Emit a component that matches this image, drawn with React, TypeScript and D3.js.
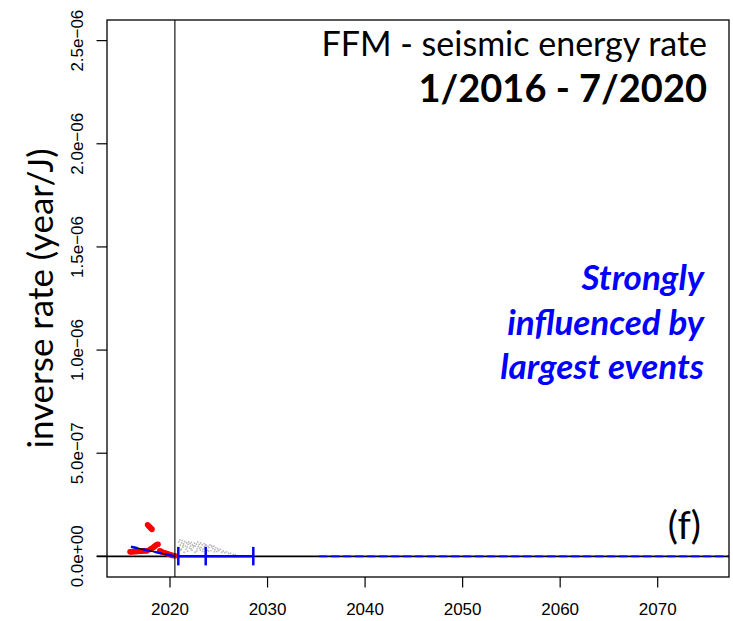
import React from 'react';
import * as d3 from 'd3';

// ---- data ----
const xTicks = [2020, 2030, 2040, 2050, 2060, 2070];
const yTicks = [0, 0.5e-6, 1.0e-6, 1.5e-6, 2.0e-6, 2.5e-6];
const yTickLabels = ['0.0e+00', '5.0e\u221207', '1.0e\u221206', '1.5e\u221206', '2.0e\u221206', '2.5e\u221206'];

// observed inverse rate (red)
const redYears = [
  2015.9, 2016.05, 2016.2, 2016.35, 2016.5, 2016.65, 2016.8, 2016.95, 2017.1, 2017.25, 2017.4, 2017.55, 2017.65,
  2017.7, 2017.8, 2017.9, 2018.0, 2018.1, 2018.15,
  2017.95, 2018.05, 2018.15, 2018.25, 2018.35, 2018.45, 2018.55, 2018.65, 2018.77,
  2018.95, 2019.1, 2019.25,
  2019.45, 2019.6, 2019.75, 2019.9, 2020.05, 2020.2, 2020.35, 2020.5,
];
const redRates = [
  0.022e-6, 0.022e-6, 0.023e-6, 0.023e-6, 0.024e-6, 0.024e-6, 0.025e-6, 0.025e-6, 0.026e-6, 0.026e-6, 0.027e-6, 0.027e-6, 0.027e-6,
  0.153e-6, 0.148e-6, 0.143e-6, 0.138e-6, 0.134e-6, 0.131e-6,
  0.034e-6, 0.036e-6, 0.039e-6, 0.042e-6, 0.046e-6, 0.050e-6, 0.054e-6, 0.057e-6, 0.059e-6,
  0.027e-6, 0.024e-6, 0.020e-6,
  0.017e-6, 0.015e-6, 0.012e-6, 0.010e-6, 0.008e-6, 0.005e-6, 0.004e-6, 0.003e-6,
];

// linear fit of inverse rate
const fitYears = [2016.0, 2020.5];
const fitRates = [0.0465e-6, 0];

// end of analysis window
const cutoffYear = 2020.5;

// forecast failure times (quantiles)
const forecastYears = [2020.85, 2023.66, 2028.54];

// simulated forecast cloud (gray)
const grayYears = [
  2020.9, 2020.95, 2021.0, 2021.05, 2021.1, 2021.2, 2021.25, 2021.3, 2021.4, 2021.45, 2021.5, 2021.6, 2021.65,
  2021.7, 2021.8, 2021.85, 2021.9, 2022.0, 2022.05, 2022.1, 2022.2, 2022.25, 2022.3, 2022.4, 2022.5, 2022.55,
  2022.6, 2022.7, 2022.8, 2022.85, 2022.9, 2023.0, 2023.1, 2023.15, 2023.2, 2023.3, 2023.4, 2023.5, 2023.55,
  2023.6, 2023.7, 2023.8, 2023.9, 2024.0, 2024.1, 2024.2, 2024.3, 2024.4, 2024.5, 2024.6, 2024.7, 2024.8,
  2024.9, 2025.0, 2025.15, 2025.3, 2025.45, 2025.6, 2025.8, 2026.0, 2026.2, 2026.5, 2026.7,
  2021.15, 2021.35, 2021.75, 2022.15, 2022.45, 2022.75, 2023.05, 2023.35, 2023.65, 2023.95, 2024.25, 2024.55,
];
const grayRates = [
  0.070e-6, 0.040e-6, 0.080e-6, 0.055e-6, 0.030e-6, 0.065e-6, 0.078e-6, 0.045e-6, 0.060e-6, 0.020e-6, 0.072e-6, 0.050e-6, 0.035e-6,
  0.066e-6, 0.025e-6, 0.058e-6, 0.070e-6, 0.040e-6, 0.062e-6, 0.050e-6, 0.068e-6, 0.030e-6, 0.055e-6, 0.045e-6, 0.064e-6, 0.020e-6,
  0.050e-6, 0.060e-6, 0.038e-6, 0.070e-6, 0.048e-6, 0.058e-6, 0.030e-6, 0.065e-6, 0.044e-6, 0.056e-6, 0.035e-6, 0.062e-6, 0.048e-6,
  0.040e-6, 0.054e-6, 0.030e-6, 0.050e-6, 0.042e-6, 0.056e-6, 0.028e-6, 0.046e-6, 0.038e-6, 0.050e-6, 0.032e-6, 0.042e-6, 0.024e-6,
  0.036e-6, 0.028e-6, 0.034e-6, 0.020e-6, 0.026e-6, 0.018e-6, 0.022e-6, 0.014e-6, 0.016e-6, 0.010e-6, 0.008e-6,
  0.035e-6, 0.052e-6, 0.045e-6, 0.036e-6, 0.052e-6, 0.026e-6, 0.040e-6, 0.024e-6, 0.056e-6, 0.026e-6, 0.052e-6, 0.022e-6,
];

// zero reference line and long-term trend
const zeroLineStartYear = 2012.5;
const trendStartYear = 2035.3;

const xDomain = [2013.54, 2077.31];
const yDomain = [-0.1e-6, 2.6e-6];

const titleLine1 = 'FFM - seismic energy rate';
const titleLine2 = '1/2016 - 7/2020';
const noteLines = ['Strongly', 'influenced by', 'largest events'];
const panelLabel = '(f)';
const yLabel = 'inverse rate (year/J)';

// ---- layout ----
const W = 733;
const H = 621;
const M = { left: 107, right: 729, top: 20, bottom: 577 };
const calibri = 'Lato, "Open Sans", sans-serif';
const arial = '"Liberation Sans", Arial, sans-serif';

export default function App() {
  const x = d3.scaleLinear().domain(xDomain).range([M.left, M.right]);
  const y = d3.scaleLinear().domain(yDomain).range([M.bottom, M.top]);
  const line = d3.line<[number, number]>().x((d) => x(d[0])).y((d) => y(d[1]));
  const fitPts: [number, number][] = fitYears.map((t, i) => [t, fitRates[i]]);
  const y0 = y(0);

  return (
    <svg
      width={W}
      height={H}
      style={{ position: 'absolute', left: 0, top: 0, background: '#fff' }}
      xmlns="http://www.w3.org/2000/svg"
    >
      <rect x={0} y={0} width={W} height={H} fill="#fff" />

      {/* gray simulated cloud */}
      {grayYears.map((t, i) => (
        <circle key={'g' + i} cx={x(t)} cy={y(grayRates[i])} r={0.9} fill="#b8b8b8" />
      ))}

      {/* zero line */}
      <line x1={x(zeroLineStartYear)} x2={M.right} y1={y0} y2={y0} stroke="#000" strokeWidth={1.8} />
      {/* trend dashed */}
      <line
        x1={x(trendStartYear)}
        x2={M.right}
        y1={y0}
        y2={y0}
        stroke="#0000ff"
        strokeWidth={1.8}
        strokeDasharray="8,4"
      />

      {/* red observed */}
      {redYears.map((t, i) => (
        <circle key={'r' + i} cx={x(t)} cy={y(redRates[i])} r={2.8} fill="#ff0000" />
      ))}

      {/* fit line */}
      <path d={line(fitPts) || ''} stroke="#000" strokeWidth={1.5} fill="none" />
      <path d={line(fitPts) || ''} stroke="#0000ff" strokeWidth={2.5} fill="none" strokeDasharray="7,5" />

      {/* forecast bar */}
      <line
        x1={x(forecastYears[0])}
        x2={x(forecastYears[forecastYears.length - 1])}
        y1={y0}
        y2={y0}
        stroke="#0000ff"
        strokeWidth={2.5}
      />
      {forecastYears.map((t, i) => (
        <line key={'f' + i} x1={x(t)} x2={x(t)} y1={y0 - 9.5} y2={y0 + 9} stroke="#0000ff" strokeWidth={2.5} />
      ))}

      {/* cutoff vertical */}
      <line x1={x(cutoffYear)} x2={x(cutoffYear)} y1={M.top} y2={M.bottom} stroke="#000" strokeWidth={1.1} />

      {/* box */}
      <rect
        x={M.left}
        y={M.top}
        width={M.right - M.left}
        height={M.bottom - M.top}
        fill="none"
        stroke="#000"
        strokeWidth={1.3}
      />

      {/* x axis */}
      {xTicks.map((t) => (
        <g key={'xt' + t}>
          <line x1={x(t)} x2={x(t)} y1={M.bottom} y2={M.bottom + 10.5} stroke="#000" strokeWidth={1.2} />
          <text x={x(t)} y={615} textAnchor="middle" fontFamily={arial} fontSize={17}>
            {t}
          </text>
        </g>
      ))}

      {/* y axis */}
      {yTicks.map((v, i) => (
        <g key={'yt' + i}>
          <line x1={M.left - 10.5} x2={M.left} y1={y(v)} y2={y(v)} stroke="#000" strokeWidth={1.2} />
          <text
            transform={`translate(83,${y(v)}) rotate(-90)`}
            textAnchor="middle"
            fontFamily={arial}
            fontSize={17}
          >
            {yTickLabels[i]}
          </text>
        </g>
      ))}

      {/* y label */}
      <text
        transform={`translate(53,${(M.top + M.bottom) / 2}) rotate(-90)`}
        textAnchor="middle"
        fontFamily={calibri}
        fontSize={35}
      >
        {yLabel}
      </text>

      {/* titles */}
      <text x={707} y={56} textAnchor="end" fontFamily={calibri} fontSize={34}>
        {titleLine1}
      </text>
      <text x={707} y={102} textAnchor="end" fontFamily={calibri} fontSize={38} fontWeight="bold">
        {titleLine2}
      </text>

      {/* note */}
      {noteLines.map((s, i) => (
        <text
          key={'n' + i}
          x={704}
          y={290 + i * 44.5}
          textAnchor="end"
          fontFamily={calibri}
          fontSize={35}
          fontWeight="bold"
          fontStyle="italic"
          fill="#0000ff"
        >
          {s}
        </text>
      ))}

      {/* panel label */}
      <text x={701} y={539} textAnchor="end" fontFamily={calibri} fontSize={38}>
        {panelLabel}
      </text>
    </svg>
  );
}
